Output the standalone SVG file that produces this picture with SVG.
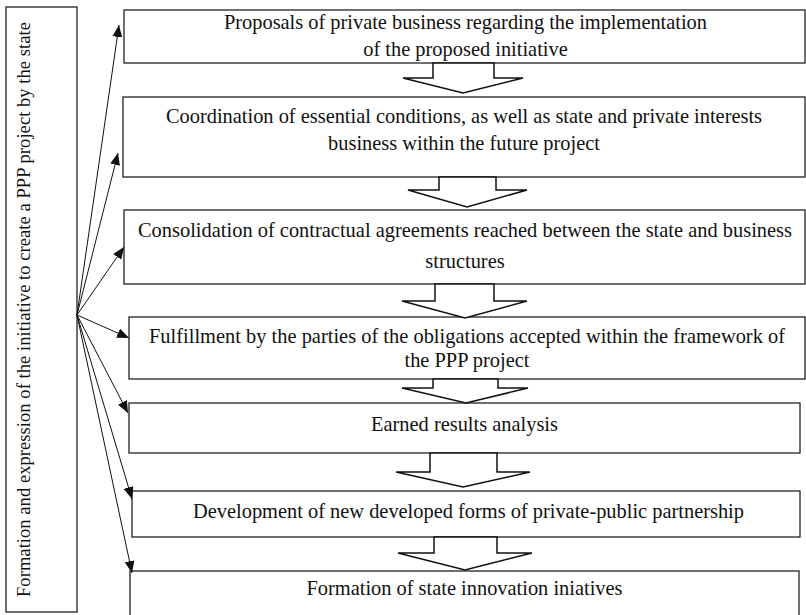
<svg xmlns="http://www.w3.org/2000/svg" width="806" height="615" viewBox="0 0 806 615">
  <style>
    .box { fill: #ffffff; stroke: #222222; stroke-width: 1.3; }
    .flow { fill: #ffffff; stroke: #111111; stroke-width: 1.5; stroke-linejoin: miter; }
    .lbl { font-family: "Liberation Serif", "Times New Roman", serif; font-size: 20.4px; fill: #111111; text-anchor: middle; }
    .side { font-size: 18.5px; }
    .fan line { stroke: #111111; stroke-width: 1; fill: none; marker-end: url(#tip); }
  </style>
  <defs>
    <marker id="tip" viewBox="0 0 12 10" refX="12" refY="5" markerWidth="12" markerHeight="10" markerUnits="userSpaceOnUse" orient="auto">
      <path d="M0,0 L12,5 L0,10 Z" fill="#111111"/>
    </marker>
  </defs>
  <rect width="806" height="615" fill="#ffffff"/>

  <!-- initiator column -->
  <g id="initiative">
    <rect class="box" x="6" y="7" width="71" height="605"/>
    <text class="lbl side" transform="translate(29.5,309.5) rotate(-90)" textLength="575" lengthAdjust="spacing">Formation and expression of the initiative to create a PPP project by the state</text>
  </g>

  <!-- process stages -->
  <g id="stage-proposals">
    <rect class="box" x="124" y="10" width="681" height="53"/>
    <text class="lbl" x="465.5" y="29" textLength="483" lengthAdjust="spacing">Proposals of private business regarding the implementation</text>
    <text class="lbl" x="465.5" y="56">of the proposed initiative</text>
  </g>
  <g id="stage-coordination">
    <rect class="box" x="123" y="97" width="682" height="80"/>
    <text class="lbl" x="464" y="123" textLength="596" lengthAdjust="spacing">Coordination of essential conditions, as well as state and private interests</text>
    <text class="lbl" x="464" y="150">business within the future project</text>
  </g>
  <g id="stage-consolidation">
    <rect class="box" x="124" y="210" width="681" height="74"/>
    <text class="lbl" x="465" y="237" textLength="654" lengthAdjust="spacing">Consolidation of contractual agreements reached between the state and business</text>
    <text class="lbl" x="465" y="268">structures</text>
  </g>
  <g id="stage-fulfillment">
    <rect class="box" x="129" y="317" width="676" height="62"/>
    <text class="lbl" x="467" y="343" textLength="636" lengthAdjust="spacing">Fulfillment by the parties of the obligations accepted within the framework of</text>
    <text class="lbl" x="467" y="367">the PPP project</text>
  </g>
  <g id="stage-analysis">
    <rect class="box" x="129" y="403" width="671" height="50"/>
    <text class="lbl" x="464.5" y="431">Earned results analysis</text>
  </g>
  <g id="stage-development">
    <rect class="box" x="132" y="491" width="668" height="46"/>
    <text class="lbl" x="468.5" y="518">Development of new developed forms of private-public partnership</text>
  </g>
  <g id="stage-innovation">
    <rect class="box" x="130" y="571" width="669" height="60"/>
    <text class="lbl" x="464.5" y="595">Formation of state innovation iniatives</text>
  </g>

  <!-- block arrows between stages -->
  <g id="flow-arrows">
    <polygon class="flow" points="433,63 494,63 494,78 523,78 463,93 403,78 433,78"/>
    <polygon class="flow" points="439,177 496,177 496,190 527,190 467,207 408,190 439,190"/>
    <polygon class="flow" points="435,284 494,284 494,301 527,301 465,318 402,301 435,301"/>
    <polygon class="flow" points="433,379 498,379 498,388 528,388 466,403 402,388 433,388"/>
    <polygon class="flow" points="430,453 497,453 497,472 530,472 463,487 396,472 430,472"/>
    <polygon class="flow" points="434,537 497,537 497,553 532,553 465,570 398,553 434,553"/>
  </g>

  <!-- connectors fanning out from the initiator -->
  <g id="connectors" class="fan">
    <line x1="77" y1="315" x2="119" y2="25"/>
    <line x1="77" y1="315" x2="118" y2="153"/>
    <line x1="77" y1="315" x2="124" y2="247"/>
    <line x1="77" y1="315" x2="129" y2="338"/>
    <line x1="77" y1="315" x2="128" y2="413"/>
    <line x1="77" y1="315" x2="132" y2="499"/>
    <line x1="77" y1="315" x2="132" y2="573"/>
  </g>
</svg>
